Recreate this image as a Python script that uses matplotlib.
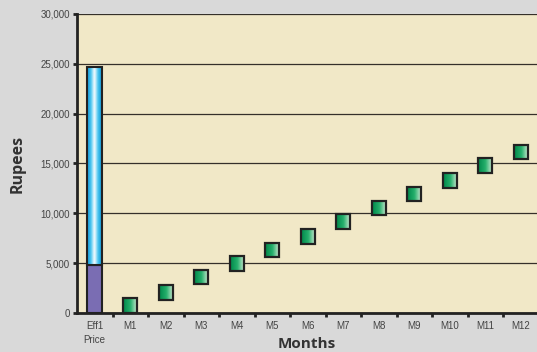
import numpy as np
import matplotlib
matplotlib.use("Agg")
import matplotlib.pyplot as plt
from matplotlib.patches import Rectangle
from matplotlib.colors import LinearSegmentedColormap
from matplotlib.ticker import FuncFormatter, MultipleLocator, FixedLocator

# Data
categories = ["Eff1\nPrice", "M1", "M2", "M3", "M4", "M5", "M6", "M7", "M8", "M9", "M10", "M11", "M12"]
price_base = 4800          # lower (purple) part of the price bar
price_total = 24700        # full height of the price bar
monthly_savings = [750, 2050, 3620, 4970, 6320, 7670, 9170, 10550, 11930, 13280, 14780, 16170]

FIG_BG = "#d9d9d9"
PLOT_BG = "#f1e8c7"
EDGE = "#222222"

fig = plt.figure(figsize=(5.37, 3.52), dpi=100, facecolor=FIG_BG)
ax = fig.add_axes([77 / 537, 39 / 352, 461.5 / 537, 299 / 352])
ax.set_facecolor(PLOT_BG)
ax.set_xlim(-0.5, len(categories) - 0.5)
ax.set_ylim(0, 30000)

# Grid
ax.yaxis.set_major_locator(MultipleLocator(5000))
ax.grid(axis="y", color="#35302a", linewidth=0.9, zorder=1)
ax.set_axisbelow(True)

# Spines
for s in ("top", "right"):
    ax.spines[s].set_visible(False)
for s in ("left", "bottom"):
    ax.spines[s].set_linewidth(2.0)
    ax.spines[s].set_color(EDGE)
    ax.spines[s].set_zorder(6)

# Ticks
ax.yaxis.set_major_formatter(FuncFormatter(lambda v, p: f"{int(v):,}"))
ax.tick_params(axis="y", direction="out", length=3, width=2, color=EDGE,
               labelsize=7, labelcolor="#444444", pad=2)
ax.set_xticks(range(len(categories)))
ax.set_xticklabels(categories)
ax.tick_params(axis="x", which="major", length=0, labelsize=7, labelcolor="#444444", pad=6)
ax.xaxis.set_minor_locator(FixedLocator(np.arange(0.5, len(categories) - 1, 1.0)))
ax.tick_params(axis="x", which="minor", direction="out", length=3, width=2, color=EDGE)
for lab in ax.get_xticklabels() + ax.get_yticklabels():
    lab.set_fontfamily("Liberation Sans")
for lab in ax.get_xticklabels():
    lab.set_linespacing(1.5)

ax.set_ylabel("Rupees", fontsize=11.5, fontweight="bold", color="#333333",
              family="Open Sans", va="center")
ax.yaxis.set_label_coords(-59 / 461.5, 0.5)
ax.set_xlabel("Months", fontsize=11, fontweight="bold", color="#333333",
              family="Open Sans", va="center")
ax.xaxis.set_label_coords(0.497, -31 / 299)

# Price bar: purple base + cylinder-shaded blue top
bar_w = 0.41
ax.bar(0, price_base, width=bar_w, color="#7a6db3", edgecolor=EDGE, linewidth=1.5, zorder=3)
blue_cmap = LinearSegmentedColormap.from_list(
    "cyl", ["#1096d6", "#45c3ef", "#ffffff", "#45c3ef", "#1096d6"])
grad = np.linspace(0, 1, 64).reshape(1, -1)
x0, x1 = -bar_w / 2, bar_w / 2
ax.imshow(grad, cmap=blue_cmap, aspect="auto", interpolation="bicubic",
          extent=[x0, x1, price_base, price_total], zorder=3)
ax.add_patch(Rectangle((x0, price_base), bar_w, price_total - price_base,
                       facecolor="none", edgecolor=EDGE, linewidth=1.5, zorder=4))

# Square markers with a left-to-right green gradient
fig.canvas.draw()
trans = ax.transData
px_x = trans.transform((1, 0))[0] - trans.transform((0, 0))[0]
px_y = trans.transform((0, 1000))[1] - trans.transform((0, 0))[1]
half = 7.2
hx = half / px_x
hy = half / px_y * 1000
green_cmap = LinearSegmentedColormap.from_list("grn", ["#00874a", "#25b06c", "#dff0dc"])
for i, v in enumerate(monthly_savings):
    xc = i + 1
    # soft shadow
    ax.add_patch(Rectangle((xc - hx + 0.02, v - hy - 60), 2 * hx, 2 * hy,
                           facecolor="#000000", alpha=0.12, edgecolor="none", zorder=4))
    ax.imshow(grad, cmap=green_cmap, aspect="auto", interpolation="bicubic",
              extent=[xc - hx, xc + hx, v - hy, v + hy], zorder=5)
    ax.add_patch(Rectangle((xc - hx, v - hy), 2 * hx, 2 * hy, facecolor="none",
                           edgecolor=EDGE, linewidth=1.6, zorder=5.5))

ax.set_xlim(-0.5, len(categories) - 0.5)
ax.set_ylim(0, 30000)

fig.savefig("out.png", dpi=100, facecolor=FIG_BG)
